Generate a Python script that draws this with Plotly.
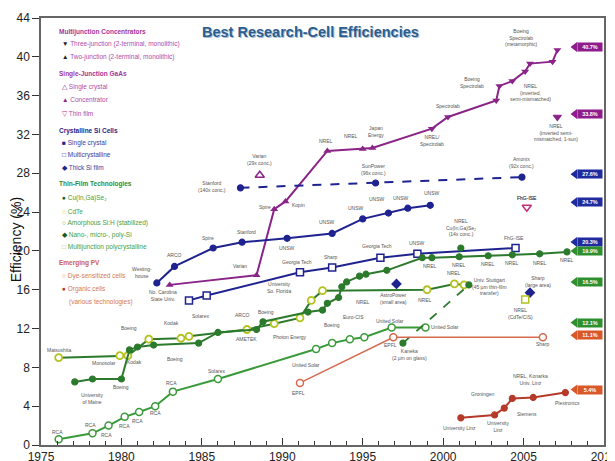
import plotly.graph_objects as go

# ---------------- data ----------------
# Multijunction concentrators (2J then 3J)
mj_years = [1983.0, 1988.4, 1989.5, 1990.2, 1992.8, 1995.0, 1995.6,
            1999.3, 2000.3, 2003.3, 2003.5, 2004.3, 2005.1, 2005.4, 2006.8, 2007.1]
mj_eff = [16.5, 17.5, 24.3, 25.1, 30.3, 30.5, 30.6,
          32.6, 33.8, 35.5, 37.0, 37.5, 38.5, 39.3, 39.5, 40.7]
mj_kind = ["2J"] * 7 + ["3J"] * 9
mj1sun_years = [2007.1]
mj1sun_eff = [33.8]

# Single-junction GaAs
gaas_conc_years = [1988.6]
gaas_conc_eff = [27.8]
gaas_tf_years = [2005.2]
gaas_tf_eff = [24.5]

# Crystalline Si
si_sc_years = [1982.2, 1983.3, 1985.7, 1987.5, 1990.3, 1993.1, 1995.0, 1996.6, 1997.8, 1999.2]
si_sc_eff = [16.7, 18.4, 20.3, 20.9, 21.3, 21.8, 23.3, 23.9, 24.4, 24.7]
si_conc_years = [1987.4, 1995.8, 2004.9]
si_conc_eff = [26.5, 27.0, 27.6]
si_mc_years = [1984.2, 1985.3, 1991.1, 1993.1, 1996.1, 1998.4, 2004.5]
si_mc_eff = [14.9, 15.4, 17.8, 18.3, 19.3, 19.7, 20.3]
si_thick_years = [1997.1, 2005.4]
si_thick_eff = [16.6, 15.7]

# Thin film
cigs_years = [1977.1, 1978.2, 1980.0, 1980.5, 1981.0, 1982.0, 1984.8, 1986.0, 1988.4, 1988.8,
              1991.6, 1992.5, 1992.8, 1993.5, 1993.7, 1994.0, 1994.8, 1995.2, 1996.5, 1998.7,
              1999.3, 2001.0, 2002.8, 2004.3, 2006.0, 2007.7]
cigs_eff = [6.5, 6.8, 6.8, 9.8, 10.1, 10.3, 10.5, 11.6, 11.9, 12.7,
            13.7, 13.9, 14.6, 15.2, 16.3, 16.8, 17.4, 17.6, 18.0, 19.3,
            19.3, 19.4, 19.5, 19.6, 19.7, 19.9]
cigs_conc_years = [2001.1]
cigs_conc_eff = [20.3]
cdte_years = [1976.1, 1979.9, 1980.4, 1981.7, 1983.7, 1984.2, 1987.8, 1989.5, 1991.1,
              1991.8, 1992.5, 1999.0, 2000.7, 2001.3]
cdte_eff = [9.0, 9.2, 9.2, 10.9, 11.0, 11.2, 11.9, 12.5, 13.1,
            14.9, 15.9, 16.0, 16.6, 16.5]
asi_years = [1976.1, 1978.2, 1979.2, 1980.2, 1981.1, 1982.1, 1983.2, 1986.0,
             1992.1, 1993.1, 1994.2, 1995.1, 1996.8, 1998.9]
asi_eff = [0.6, 1.2, 2.0, 2.9, 3.4, 4.0, 5.5, 6.8, 9.9, 10.5, 10.9, 11.1, 12.1, 12.1]
nano_years = [1997.5, 2001.6]
nano_eff = [10.5, 16.5]
mjpoly_years = [2005.1]
mjpoly_eff = [15.0]

# Emerging PV
dye_years = [1991.1, 1996.9, 2006.2]
dye_eff = [6.4, 11.1, 11.1]
org_years = [2001.1, 2003.2, 2003.8, 2004.3, 2005.6, 2007.6]
org_eff = [2.8, 3.1, 3.8, 4.8, 4.9, 5.4]

# Record tags on the right
record_values = [40.7, 33.8, 27.6, 24.7, 20.3, 19.9, 16.5, 12.1, 11.1, 5.4]
record_groups = ["mj", "mj", "si", "si", "si", "tf", "tf", "tf", "em", "em"]

# Institution labels (text, year, efficiency)
inst_text = [
    "Varian<br>(29x conc.)", "Stanford<br>(140x conc.)", "SunPower<br>(96x conc.)",
    "Amonix<br>(92x conc.)", "FhG-ISE", "FhG-ISE", "NREL<br>Cu(In,Ga)Se₂<br>(14x conc.)",
    "Sharp<br>(large area)", "Univ. Stuttgart<br>(45 µm thin-film<br>transfer)",
    "NREL<br>(CdTe/CIS)", "United Solar", "Sharp", "Kaneka<br>(2 µm on glass)",
    "NREL, Konarka<br>Univ. Linz", "Groningen", "Siemens", "Plextronics",
    "University Linz", "University<br>Linz", "EPFL", "EPFL", "United Solar", "United Solar",
    "Solarex", "AMETEK", "ARCO", "Boeing", "Photon Energy", "Boeing", "Euro-CIS", "NREL",
    "AstroPower<br>(small area)", "University<br>So. Florida", "Georgia Tech", "Sharp",
    "Georgia Tech", "UNSW", "UNSW", "UNSW", "UNSW", "UNSW", "UNSW", "UNSW",
    "Spire", "Stanford", "Spire", "Kopin", "Varian", "NREL", "NREL", "Japan<br>Energy",
    "NREL/<br>Spectrolab", "Spectrolab", "Boeing<br>Spectrolab",
    "NREL<br>(inverted,<br>semi-mismatched)", "Boeing<br>Spectrolab<br>(metamorphic)",
    "NREL<br>(inverted semi-<br>mismatched, 1-sun)", "Westing-<br>house", "ARCO",
    "No. Carolina<br>State Univ.", "Solarex", "Matsushita", "Monosolar", "Kodak", "Boeing",
    "Kodak", "Boeing", "Boeing", "University<br>of Maine", "RCA", "RCA", "RCA", "RCA", "RCA",
    "RCA", "RCA", "NREL", "NREL", "NREL", "NREL", "NREL", "NREL", "NREL", "NREL", "FhG-ISE"]
inst_year = [
    1988.6, 1985.6, 1995.7, 2004.9, 2005.2, 2004.4, 2001.1, 2005.9, 2002.9, 2004.8,
    2000.1, 2006.2, 1997.9, 2005.4, 2002.5, 2005.2, 2007.7, 2001.0, 2003.4, 1991.0,
    1996.7, 1991.5, 1996.7, 1985.9, 1987.8, 1987.5, 1989.0, 1990.5, 1993.1, 1994.4,
    1995.0, 1996.9, 1989.8, 1990.9, 1993.0, 1995.9, 1998.4, 1990.3, 1992.8, 1994.6,
    1995.9, 1997.4, 1999.3, 1985.4, 1987.8, 1988.9, 1991.0, 1987.4, 1992.7, 1994.3,
    1995.8, 1999.3, 2000.3, 2001.8, 2005.4, 2004.9, 2007.0, 1981.3, 1983.3, 1982.6,
    1984.9, 1976.1, 1978.9, 1980.8, 1980.5, 1983.1, 1983.3, 1980.0, 1978.2, 1976.0,
    1978.1, 1979.1, 1980.2, 1981.0, 1982.1, 1983.1, 1999.2, 2001.0, 2002.8, 2004.3,
    2006.0, 2007.7, 1998.9, 2000.7, 2005.2]
inst_eff = [
    29.4, 26.6, 28.4, 29.1, 25.5, 21.3, 22.4, 16.8, 16.3, 13.6,
    12.2, 10.4, 9.3, 6.7, 5.3, 3.2, 4.3, 1.75, 1.9, 5.4,
    10.3, 8.2, 12.8, 7.6, 10.9, 13.4, 13.7, 11.1, 12.4, 13.2,
    14.7, 15.1, 16.2, 18.9, 19.4, 20.5, 20.8, 20.3, 23.0, 24.4,
    25.3, 25.5, 26.0, 21.3, 21.9, 24.5, 24.7, 18.4, 31.3, 31.8,
    32.3, 31.4, 34.9, 37.4, 36.3, 42.0, 32.2, 17.8, 19.6, 15.4,
    13.3, 9.8, 8.5, 8.6, 12.1, 12.6, 8.9, 6.0, 4.8, 1.3,
    2.1, 1.0, 2.0, 2.5, 3.3, 6.4, 18.4, 18.6, 18.7, 18.8,
    18.8, 19.1, 14.9, 17.7, 25.5]

# ---------------- styles ----------------
PURPLE = "#8a2488"
NAVY = "#1f2390"
DGREEN = "#2c7a2c"
GREEN = "#3a9a3a"
YGREEN = "#b3c21f"
ORANGE = "#d56a4e"
RED = "#b53a2a"
TAG = {"mj": "#8e1c8c", "si": "#1e2a9e", "tf": "#2f8f2f", "em": "#d9582a"}
NARROW = "Liberation Sans Narrow, Arial Narrow, Liberation Sans, Arial"
PX_PER_PCT = 427 / 44.0

fig = go.Figure()

def add(x, y, color, symbol, size=6, fill=None, dash="solid", width=2, mode="lines+markers", lw=1.2):
    fig.add_trace(go.Scatter(
        x=x, y=y, mode=mode,
        line=dict(color=color, width=width, dash=dash),
        marker=dict(symbol=symbol, size=size, color=fill if fill else color,
                    line=dict(color=color, width=lw)),
        showlegend=False, hoverinfo="skip"))

# Multijunction
fig.add_trace(go.Scatter(
    x=mj_years, y=mj_eff, mode="lines+markers",
    line=dict(color=PURPLE, width=2),
    marker=dict(symbol=["triangle-up" if k == "2J" else "triangle-down" for k in mj_kind],
                size=7, color=PURPLE),
    showlegend=False, hoverinfo="skip"))
add(mj1sun_years, mj1sun_eff, PURPLE, "triangle-down", size=7, mode="markers")
add(gaas_conc_years, gaas_conc_eff, PURPLE, "triangle-up", size=8, fill="white", mode="markers", lw=1.5)
add(gaas_tf_years, gaas_tf_eff, "#c0307a", "triangle-down", size=8, fill="white", mode="markers", lw=1.5)

# Si
add(si_conc_years, si_conc_eff, NAVY, "circle", size=6, dash="dash", width=2)
add(si_sc_years, si_sc_eff, NAVY, "circle", size=6)
add(si_mc_years, si_mc_eff, NAVY, "square", size=7, fill="white", lw=1.5)
add(si_thick_years, si_thick_eff, NAVY, "diamond", size=7, mode="markers")

# Thin film
add(cdte_years, cdte_eff, DGREEN, "circle", size=7, fill="white", width=2)
fig.data[-1].marker.line.color = YGREEN
fig.data[-1].marker.line.width = 1.8
add(cigs_years, cigs_eff, DGREEN, "circle", size=6)
add(cigs_conc_years, cigs_conc_eff, DGREEN, "circle", size=6, mode="markers")
add(asi_years, asi_eff, GREEN, "circle", size=7, fill="white", width=2, lw=1.5)
add(nano_years, nano_eff, DGREEN, "circle", size=6, dash="dash", width=1.8)
add(mjpoly_years, mjpoly_eff, YGREEN, "square", size=7, fill="white", mode="markers", lw=1.5)

# Emerging
add(dye_years, dye_eff, ORANGE, "circle", size=7, fill="white", width=1.6, lw=1.5)
add(org_years, org_eff, RED, "circle", size=6, width=2)

annotations = []

# Institution labels
for t, xx, yy in zip(inst_text, inst_year, inst_eff):
    annotations.append(dict(x=xx, y=yy, text=t, showarrow=False, xref="x", yref="y",
                            font=dict(size=5, color="#555555", family=NARROW)))

# Record tags (box + arrow tip), lifted slightly above the value like the original
extra = {20.3: 3, 19.9: -2, 12.1: 2, 11.1: -1}
tag_y = [v + (3 + extra.get(v, 0)) / PX_PER_PCT for v in record_values]
fig.add_trace(go.Scatter(
    x=[2008.2] * len(record_values), y=tag_y, mode="markers",
    marker=dict(symbol="triangle-left", size=9, color=[TAG[g] for g in record_groups]),
    showlegend=False, hoverinfo="skip", cliponaxis=False))
for v, g, ty in zip(record_values, record_groups, tag_y):
    annotations.append(dict(x=2009.1, y=ty, text=f"<b>{v}%</b>", showarrow=False,
                            bgcolor=TAG[g], font=dict(size=5.5, color="white", family=NARROW),
                            width=24, height=8, borderpad=0))

# Legend (text)
legend_rows = [
    (42.6, "<b>Multijunction Concentrators</b>", "#a3359d", 0),
    (41.3, "<span style='color:#222'>▼</span> Three-junction (2-terminal, monolithic)", "#b04aa8", 1),
    (40.0, "<span style='color:#222'>▲</span> Two-junction (2-terminal, monolithic)", "#b04aa8", 1),
    (38.2, "<b>Single-Junction GaAs</b>", "#a3359d", 0),
    (36.9, "<span style='color:#8a2488'>△</span> Single crystal", "#b04aa8", 1),
    (35.6, "<span style='color:#8a2488'>▲</span> Concentrator", "#b04aa8", 1),
    (34.2, "<span style='color:#c0307a'>▽</span> Thin film", "#b04aa8", 1),
    (32.4, "<b>Crystalline Si Cells</b>", "#26268a", 0),
    (31.1, "<span style='color:#1f2390'>■</span> Single crystal", "#3a3aa0", 1),
    (29.9, "<span style='color:#1f2390'>□</span> Multicrystalline", "#3a3aa0", 1),
    (28.6, "<span style='color:#1f2390'>◆</span> Thick Si film", "#3a3aa0", 1),
    (26.9, "<b>Thin-Film Technologies</b>", "#2e8b2e", 0),
    (25.5, "<span style='color:#1b5e1b'>●</span> Cu(In,Ga)Se₂", "#3fa03f", 1),
    (24.1, "<span style='color:#b3c21f'>○</span> CdTe", "#3fa03f", 1),
    (22.9, "<span style='color:#3a9a3a'>○</span> Amorphous Si:H (stabilized)", "#3fa03f", 1),
    (21.6, "<span style='color:#1b5e1b'>◆</span> Nano-, micro-, poly-Si", "#3fa03f", 1),
    (20.4, "<span style='color:#b3c21f'>□</span> Multijunction polycrystalline", "#3fa03f", 1),
    (18.8, "<b>Emerging PV</b>", "#d0603a", 0),
    (17.4, "<span style='color:#d56a4e'>○</span> Dye-sensitized cells", "#d6785a", 1),
    (16.1, "<span style='color:#b53a2a'>●</span> Organic cells", "#d6785a", 1),
    (14.7, "(various technologies)", "#d6785a", 2),
]
for yy, t, c, lvl in legend_rows:
    annotations.append(dict(x=1976.0 + (0.2 if lvl == 1 else 0.6 if lvl == 2 else 0), y=yy,
                            text=t, showarrow=False, xanchor="left",
                            font=dict(size=6.5, color=c, family=NARROW)))

# Title
for col, sx, sy in [("#a9bfd3", 1, -1), ("#2d5d8c", 0, 0)]:
    annotations.append(dict(x=0.478, y=0.967, xref="paper", yref="paper", showarrow=False,
                            xanchor="center", yanchor="middle", xshift=sx, yshift=sy,
                            text="<b>Best Research-Cell Efficiencies</b>",
                            font=dict(size=14.5, color=col, family="Liberation Sans, Arial")))
# Y title
annotations.append(dict(x=-0.044, y=0.48, xref="paper", yref="paper", showarrow=False,
                        xanchor="center", yanchor="middle",
                        text="Efficiency (%)", textangle=-90,
                        font=dict(size=14, color="#111", family="Liberation Sans, Arial")))

# The page body adds an 8px offset, so margins compensate to keep the plot box at
# x 41..604, y 18..445 in the window.
fig.update_layout(
    width=615, height=461,
    margin=dict(l=33, r=19, t=10, b=24),
    paper_bgcolor="white", plot_bgcolor="white",
    annotations=annotations,
    xaxis=dict(range=[1975, 2010], tickvals=[1975, 1980, 1985, 1990, 1995, 2000, 2005, 2010],
               ticks="inside", ticklen=7, tickwidth=1.2, tickcolor="#333",
               minor=dict(dtick=1, ticks="inside", ticklen=4, tickcolor="#333"),
               showgrid=False, zeroline=False, showline=True, linecolor="#666", linewidth=1.5,
               mirror=True, tickfont=dict(size=12, color="#222", family=NARROW),
               automargin=False),
    yaxis=dict(range=[0, 44], dtick=4, ticks="outside", ticklen=7, tickcolor="#333",
               showgrid=False, zeroline=False, showline=True, linecolor="#666", linewidth=1.5,
               mirror=True, tickfont=dict(size=12, color="#222", family=NARROW),
               automargin=False),
)

fig.write_html("out.html")
